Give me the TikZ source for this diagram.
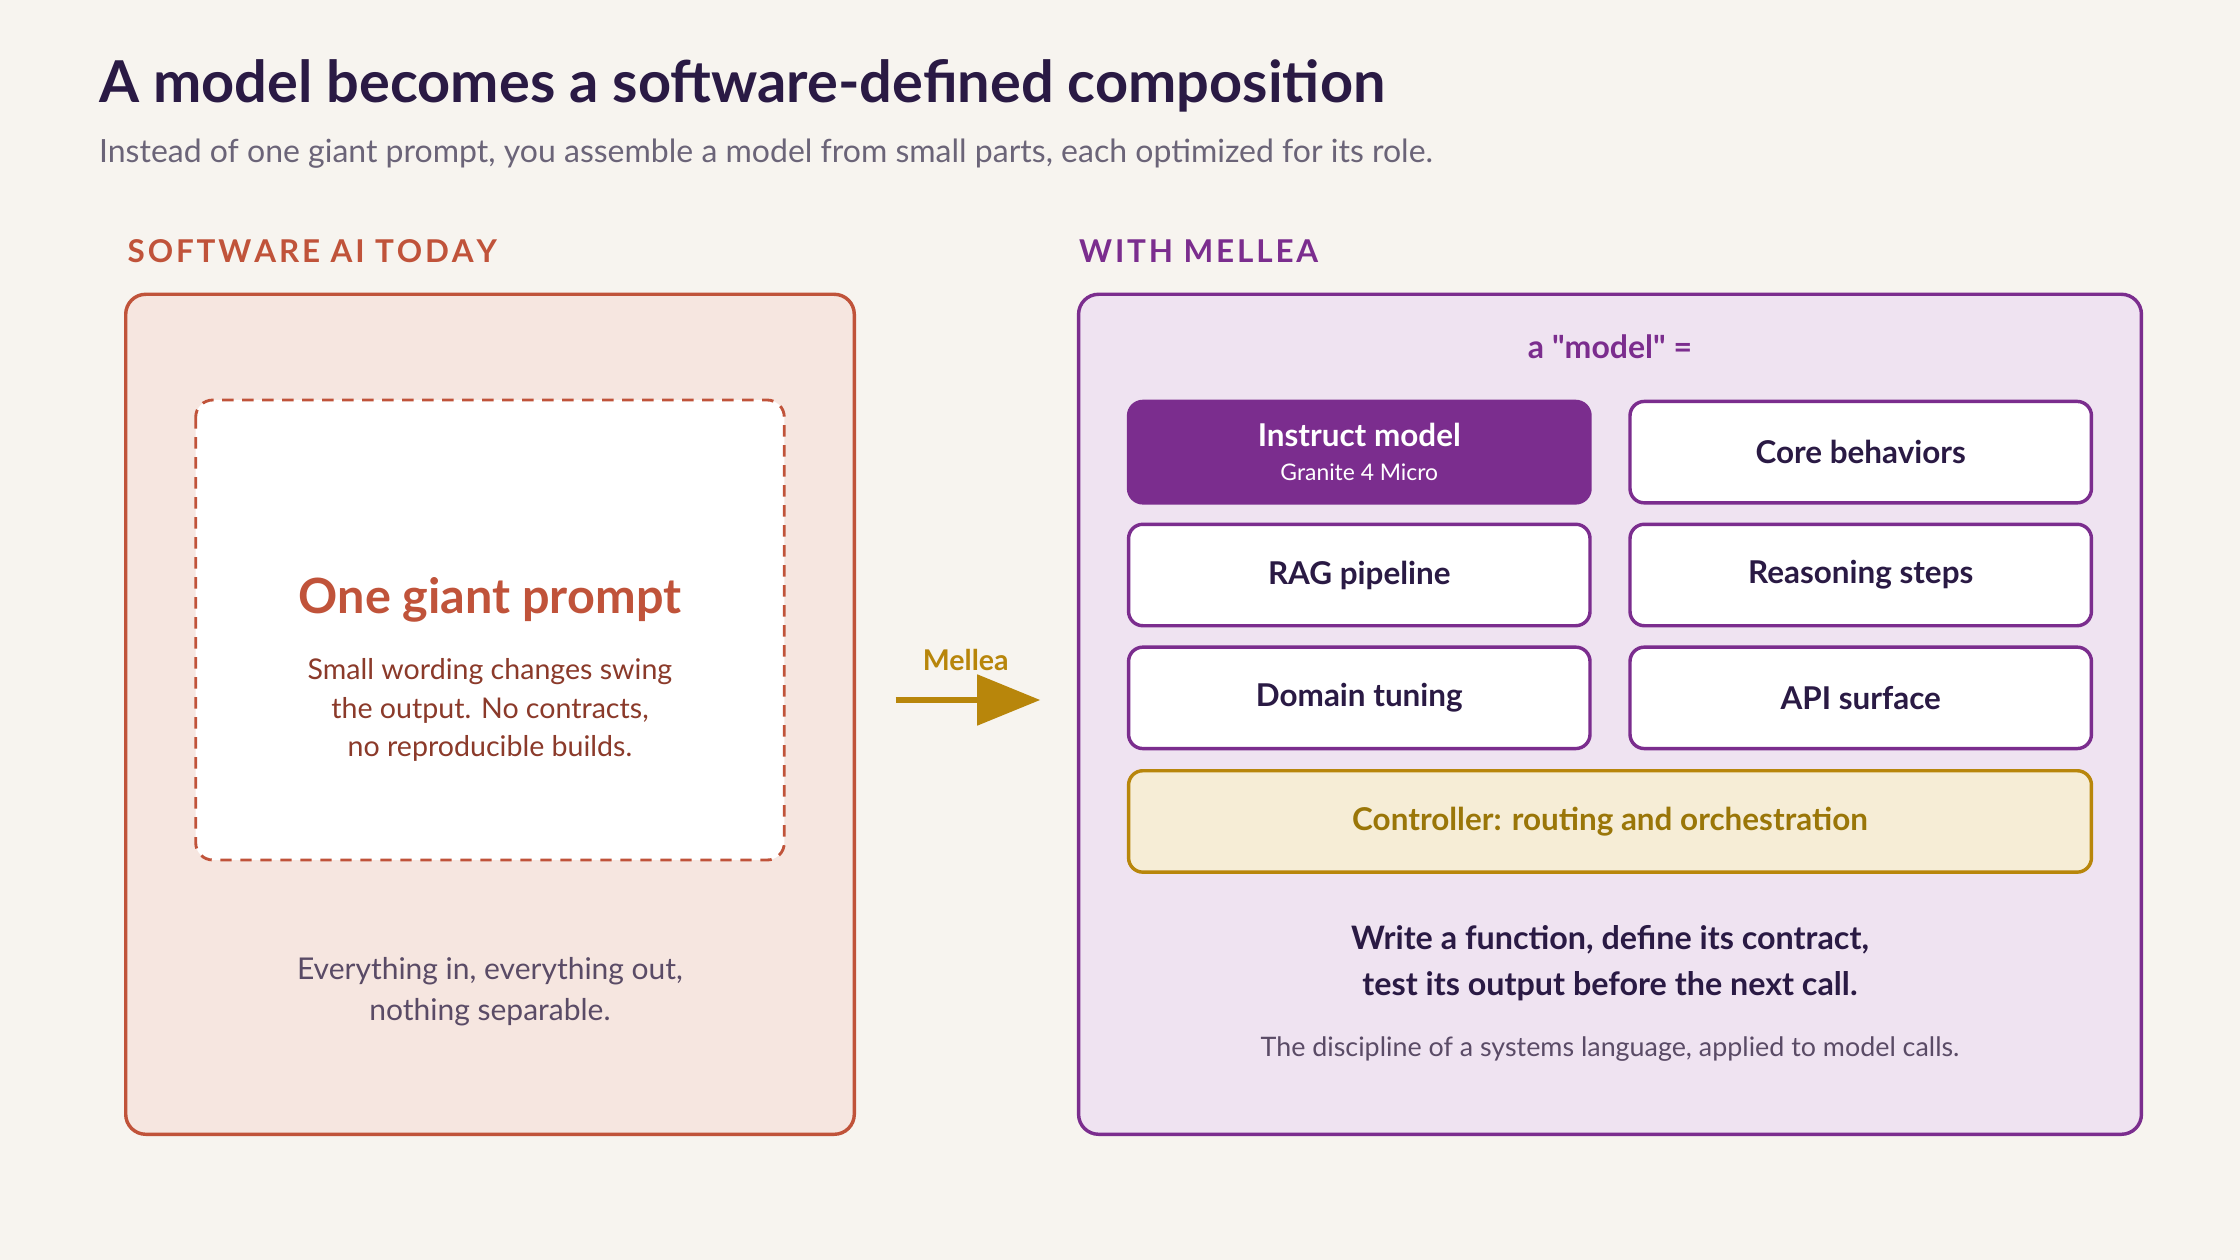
\documentclass[tikz,border=0pt]{standalone}
\usepackage{fontspec}
\setmainfont{Lato}
\newfontfamily\latoraw{Lato}
\definecolor{bg}{HTML}{F7F4EF}
\definecolor{ink}{HTML}{2A1A44}
\definecolor{sub}{HTML}{6B6478}
\definecolor{rust}{HTML}{C0533A}
\definecolor{rustfill}{HTML}{F6E6E0}
\definecolor{rusttxt}{HTML}{8B3A2A}
\definecolor{purp}{HTML}{7B2D8E}
\definecolor{purpfill}{HTML}{EFE3F1}
\definecolor{gold}{HTML}{B8860B}
\definecolor{goldfill}{HTML}{F6EDD6}
\definecolor{goldtxt}{HTML}{9A7608}
\definecolor{gray2}{HTML}{5A4B66}
\begin{document}
\begin{tikzpicture}[x=0.5pt,y=-0.5pt,
  cell/.style={draw=purp,line width=1.2pt,fill=white,rounded corners=5pt,minimum width=161.5pt,minimum height=35.5pt,font=\fontsize{11}{12}\selectfont\bfseries,text=ink},
  lbl/.style={anchor=base west,inner sep=0pt,font=\fontsize{11}{13}\selectfont\bfseries}]
\fill[bg] (0,0) rectangle (1568,882);
\useasboundingbox (0,0) rectangle (1568,882);
\node[anchor=base west,inner sep=0pt,text=ink,font=\fontsize{20.2}{24}\selectfont\bfseries] (title) at (69,72) {A model becomes a software-defined composition};
\node[anchor=base west,inner sep=0pt,text=sub,font=\fontsize{11.2}{13}\selectfont] (subt) at (69,114) {Instead of one giant prompt, you assemble a model from small parts, each optimized for its role.};
\node[lbl,text=rust] (lt) at (89,184) {S\kern1pt O\kern1pt F\kern1pt T\kern1pt W\kern1pt A\kern1pt R\kern1pt E\kern1pt\ A\kern1pt I\kern1pt\ T\kern1pt O\kern1pt D\kern1pt A\kern1pt Y};
\node[lbl,text=purp] (rt) at (755,184) {W\kern1pt I\kern1pt T\kern1pt H\kern1pt\ M\kern1pt E\kern1pt L\kern1pt L\kern1pt E\kern1pt A};
% left
\draw[rust,fill=rustfill,line width=1.2pt,rounded corners=7pt] (88,206) rectangle (598,794);
\draw[rust,fill=white,line width=1pt,dashed,dash pattern=on 4pt off 3pt,rounded corners=6pt] (137,280) rectangle (549,602);
\node[text=rust,font=\fontsize{17}{20}\selectfont\bfseries] (ogp) at (343,420) {One giant prompt};
\node[text=rusttxt,align=center,font=\fontsize{10}{13.6}\selectfont] (ogpt) at (343,497) {Small wording changes swing\\the output. No contracts,\\no reproducible builds.};
\node[text=gray2,align=center,font=\fontsize{10.5}{14.5}\selectfont] (ev) at (343,694) {Everything in, everything out,\\nothing separable.};
% arrow
\coordinate (a1) at (627,490); \coordinate (a2) at (728,490);
\draw[gold,line width=1.8pt] (a1) -- (690,490);
\fill[gold] (684,472) -- (a2) -- (684,508) -- cycle;
\node[text=gold,font=\fontsize{10}{12}\selectfont\bfseries] (mel) at (676,462) {Mellea};
% right
\draw[purp,fill=purpfill,line width=1.2pt,rounded corners=7pt] (755,206) rectangle (1499,794);
\node[text=purp,font=\fontsize{11.2}{13}\latoraw\selectfont\bfseries] (am) at (1127,243) {a "model" =};
\node[cell,fill=purp,text=white,align=center] (im) at (951.5,316.5) {Instruct model\\[0pt]{\fontsize{8}{10}\selectfont\mdseries Granite 4 Micro}};
\node[cell] (cb) at (1302.5,316.5) {Core behaviors};
\node[cell] (rag) at (951.5,402.5) {RAG pipeline};
\node[cell] (rs) at (1302.5,402.5) {Reasoning steps};
\node[cell] (dt) at (951.5,488.5) {Domain tuning};
\node[cell] (api) at (1302.5,488.5) {API surface};
\node[cell,draw=gold,fill=goldfill,text=goldtxt,minimum width=337pt] (ctl) at (1127,575) {Controller: routing and orchestration};
\node[text=ink,align=center,font=\fontsize{11.3}{16}\selectfont\bfseries] (wf) at (1127,674) {Write a function, define its contract,\\test its output before the next call.};
\node[text=gray2,font=\fontsize{9.4}{11}\selectfont] (disc) at (1127,734) {The discipline of a systems language, applied to model calls.};
\end{tikzpicture}
\end{document}
